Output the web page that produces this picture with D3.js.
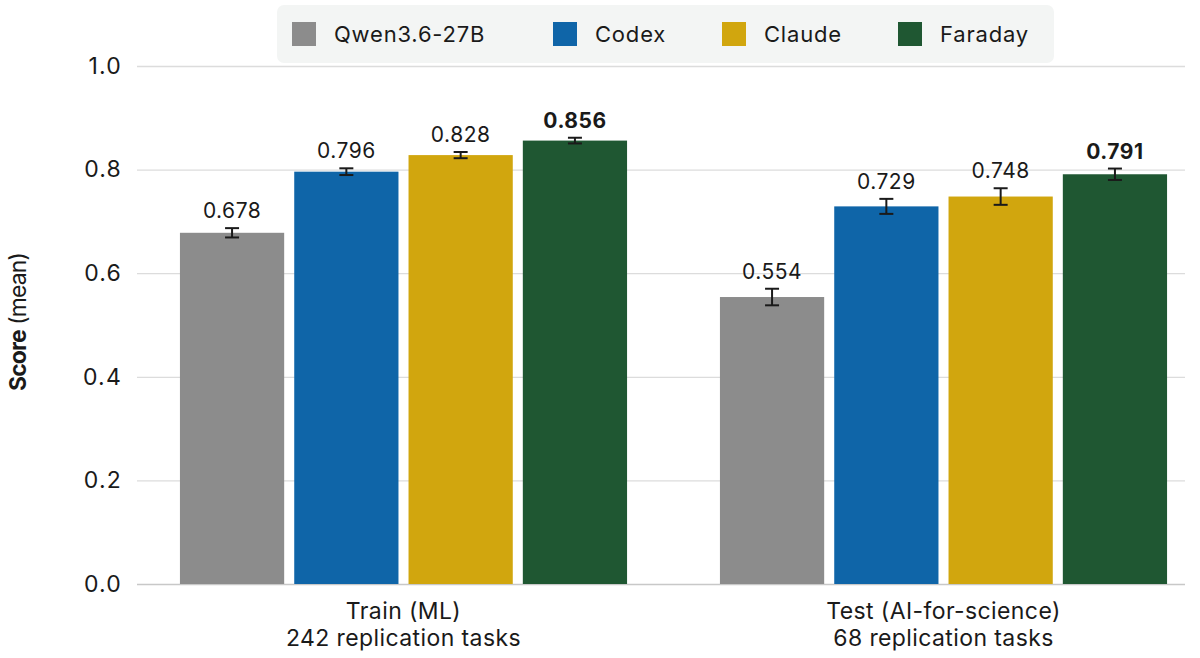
<!DOCTYPE html>
<html>
<head>
<meta charset="utf-8">
<script src="https://cdn.jsdelivr.net/npm/d3@7"></script>
<style>
  body { margin: 0; background: #fff; }
  text { font-family: Inter, "Noto Sans", sans-serif; fill: #1a1a1a; }
</style>
</head>
<body>
<div id="chart"></div>
<script>
// data
const groups = ["Train (ML)", "Test (AI-for-science)"];
const groupSub = ["242 replication tasks", "68 replication tasks"];
const models = ["Qwen3.6-27B", "Codex", "Claude", "Faraday"];
const colors = ["#8c8c8c", "#0f65a8", "#d1a60e", "#1f5732"];
const trainScores = [0.678, 0.796, 0.828, 0.856];
const testScores = [0.554, 0.729, 0.748, 0.791];
const trainErr = [0.009, 0.0065, 0.006, 0.0055];
const testErr = [0.016, 0.0145, 0.016, 0.011];
const yTicks = [0, 0.2, 0.4, 0.6, 0.8, 1.0];

const scores = [trainScores, testScores];
const errs = [trainErr, testErr];

const W = 1200, H = 658;
const svg = d3.select("#chart").append("svg")
  .attr("width", W).attr("height", H);

const y = d3.scaleLinear().domain([0, 1]).range([584, 66]);
const x0 = d3.scaleBand().domain(groups).range([133.5, 1213.5])
  .paddingInner(0.172).paddingOuter(0.086);
const x1 = d3.scaleBand().domain(models).range([0, x0.bandwidth()])
  .paddingInner(0.088).paddingOuter(0);

// gridlines + tick labels
const yAxis = svg.append("g")
  .attr("transform", "translate(137,0)")
  .call(d3.axisLeft(y).tickValues(yTicks).tickFormat(d3.format(".1f"))
    .tickSize(-1048).tickPadding(15));
yAxis.select(".domain").remove();
yAxis.selectAll(".tick line").attr("stroke", d => d === 0 ? "#c8c8c8" : "#dcdcdc").attr("stroke-width", 1.3);
yAxis.selectAll(".tick text").attr("font-size", 23).attr("fill", "#1a1a1a")
  .attr("letter-spacing", 1.2)
  .style("font-family", "Inter, sans-serif");

// y title
const yt = svg.append("text")
  .attr("transform", "translate(26,322) rotate(-90)")
  .attr("text-anchor", "middle")
  .attr("font-size", 23)
  .attr("letter-spacing", -0.9);
yt.append("tspan").attr("font-weight", 700).text("Score");
yt.append("tspan").text(" (mean)");

// bars
groups.forEach((g, gi) => {
  const gg = svg.append("g").attr("transform", `translate(${x0(g)},0)`);
  const rows = models.map((m, i) => ({ m, i, v: scores[gi][i], e: errs[gi][i] }));

  gg.selectAll("rect").data(rows).enter().append("rect")
    .attr("x", d => x1(d.m))
    .attr("y", d => y(d.v))
    .attr("width", x1.bandwidth())
    .attr("height", d => y(0) - y(d.v))
    .attr("fill", d => colors[d.i]);

  const eb = gg.selectAll("g.err").data(rows).enter().append("g").attr("class", "err")
    .attr("transform", d => `translate(${x1(d.m) + x1.bandwidth() / 2},0)`)
    .attr("stroke", "#1a1a1a").attr("stroke-width", 2);
  eb.append("line").attr("y1", d => y(d.v - d.e)).attr("y2", d => y(d.v + d.e));
  eb.append("line").attr("x1", -7).attr("x2", 7).attr("y1", d => y(d.v - d.e)).attr("y2", d => y(d.v - d.e));
  eb.append("line").attr("x1", -7).attr("x2", 7).attr("y1", d => y(d.v + d.e)).attr("y2", d => y(d.v + d.e));

  gg.selectAll("text.val").data(rows).enter().append("text").attr("class", "val")
    .attr("x", d => x1(d.m) + x1.bandwidth() / 2)
    .attr("y", d => y(d.v + d.e) - 10)
    .attr("text-anchor", "middle")
    .attr("font-size", 21)
    .attr("letter-spacing", 0.5)
    .attr("font-weight", d => d.i === 3 ? 700 : 400)
    .text(d => d.v.toFixed(3));

  svg.append("text")
    .attr("x", x0(g) + x0.bandwidth() / 2).attr("y", 619)
    .attr("text-anchor", "middle").attr("font-size", 23).attr("letter-spacing", 0.4).text(g);
  svg.append("text")
    .attr("x", x0(g) + x0.bandwidth() / 2).attr("y", 646)
    .attr("text-anchor", "middle").attr("font-size", 23).attr("letter-spacing", 0.4).text(groupSub[gi]);
});

// legend
const leg = svg.append("g");
leg.append("rect").attr("x", 277).attr("y", 5).attr("width", 777).attr("height", 58)
  .attr("rx", 7).attr("fill", "#f3f5f4");
const legX = [292, 553, 722, 898];
models.forEach((m, i) => {
  leg.append("rect").attr("x", legX[i]).attr("y", 22).attr("width", 24).attr("height", 24)
    .attr("fill", colors[i]);
  leg.append("text").attr("x", legX[i] + 42).attr("y", 42).attr("font-size", 22)
    .attr("letter-spacing", 0.8).text(m);
});
</script>
</body>
</html>
